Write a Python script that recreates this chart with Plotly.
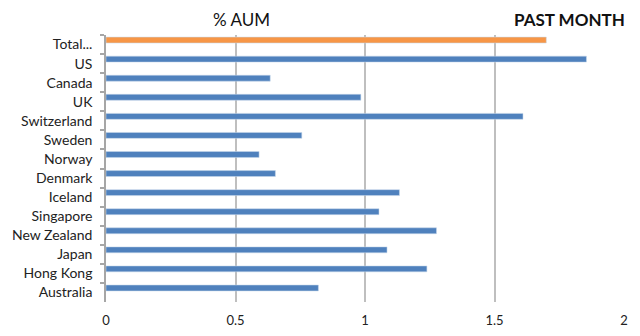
import plotly.graph_objects as go

countries = ["Total...", "US", "Canada", "UK", "Switzerland", "Sweden", "Norway",
             "Denmark", "Iceland", "Singapore", "New Zealand", "Japan", "Hong Kong", "Australia"]
aum_pct = [1.70, 1.855, 0.634, 0.984, 1.61, 0.756, 0.591,
           0.654, 1.133, 1.054, 1.276, 1.085, 1.239, 0.82]
x_ticks = [0, 0.5, 1, 1.5, 2]
x_tick_text = ["0", "0.5", "1", "1.5", "2"]

BLUE = "#4f81bd"
ORANGE = "#f79646"
colors = [ORANGE if c.startswith("Total") else BLUE for c in countries]

# thin bars sitting in the upper part of each category slot
fig = go.Figure(go.Bar(
    x=aum_pct,
    y=countries,
    orientation="h",
    width=0.31,
    offset=-0.39,
    marker=dict(color=colors, line=dict(color="rgba(200,215,235,0.9)", width=0.6)),
    hoverinfo="skip",
))

font_family = "Lato, 'Open Sans', sans-serif"

fig.update_layout(
    width=640, height=336,
    margin=dict(l=106, r=16, t=35, b=34, autoexpand=False),
    paper_bgcolor="white", plot_bgcolor="white",
    showlegend=False,
    font=dict(family=font_family, size=13, color="#222"),
    annotations=[
        dict(text="% AUM", x=0.262, y=1, xref="paper", yref="paper",
             xanchor="center", yanchor="bottom", yshift=3, showarrow=False,
             font=dict(size=17, color="#111", family=font_family)),
        dict(text="<b>PAST MONTH</b>", x=1.005, y=1, xref="paper", yref="paper",
             xanchor="right", yanchor="bottom", yshift=3, showarrow=False,
             font=dict(size=17, color="#111", family=font_family)),
    ],
)

fig.update_xaxes(
    range=[0, 2.0], tickvals=x_ticks, ticktext=x_tick_text,
    showgrid=True, gridcolor="#bfbfbf", gridwidth=1.5,
    zeroline=False, showline=False, ticks="",
    tickfont=dict(size=13, color="#222"),
    ticklabelstandoff=9, automargin=False,
)

fig.update_yaxes(
    type="category", autorange="reversed",
    showgrid=False, zeroline=False,
    showline=True, linecolor="#a6a6a6", linewidth=1.5,
    ticks="outside", tickson="boundaries", ticklen=4, tickcolor="#a6a6a6", tickwidth=1.5,
    tickfont=dict(size=14, color="#222"),
    ticklabelstandoff=9, automargin=False,
)

fig.write_html("out.html")
